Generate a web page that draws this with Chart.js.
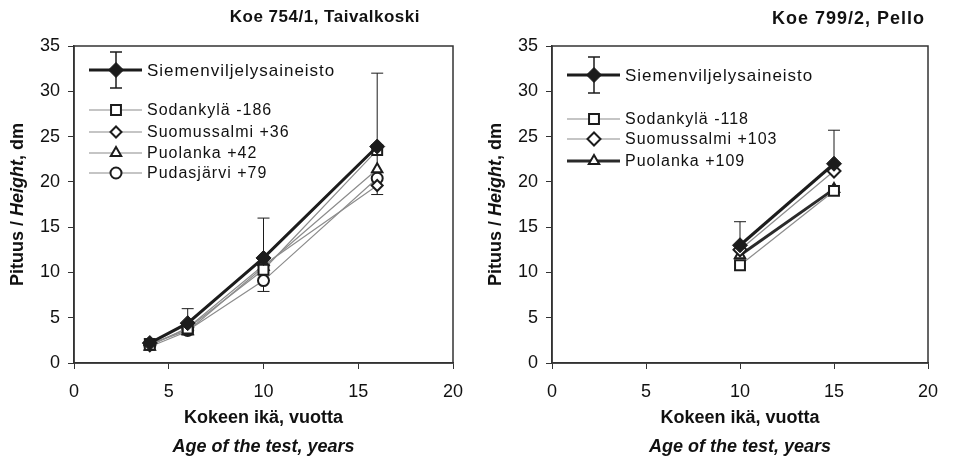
<!DOCTYPE html>
<html>
<head>
<meta charset="utf-8">
<script src="https://cdn.jsdelivr.net/npm/chart.js@4.4.1/dist/chart.umd.min.js"></script>
<style>
  html, body { margin: 0; padding: 0; background: #fff; }
  #wrap { position: relative; width: 953px; height: 461px; overflow: hidden; }
  .panel { position: absolute; top: 0; }
  #left { left: 0; }
  #right { left: 476px; }
</style>
</head>
<body>
<div id="wrap">
  <div class="panel" id="left"><canvas id="chart754" width="476" height="461"></canvas></div>
  <div class="panel" id="right"><canvas id="chart799" width="477" height="461"></canvas></div>
</div>
<script>
const FONT = '"Liberation Sans", Arial, sans-serif';

// Koe 754/1, Taivalkoski
const ages754 = [4, 6, 10, 16];
const siemen754 = [2.2, 4.4, 11.6, 23.9];
const siemenLow754 = [1.7, 3.1, 7.9, 18.6];
const siemenHigh754 = [2.7, 6.0, 16.0, 32.0];
const sodankyla754 = [2.0, 3.8, 10.3, 23.5];
const suomussalmi754 = [1.9, 3.9, 10.8, 19.6];
const puolanka754 = [1.8, 3.5, 10.6, 21.4];
const pudasjarvi754 = [2.1, 3.6, 9.1, 20.4];

// Koe 799/2, Pello
const ages799 = [10, 15];
const siemen799 = [13.0, 22.0];
const siemenLow799 = [null, null];
const siemenHigh799 = [15.6, 25.7];
const sodankyla799 = [10.8, 19.0];
const suomussalmi799 = [12.5, 21.2];
const puolanka799 = [11.9, 19.2];

const xMin = 0, xMax = 20, xStep = 5;
const yMin = 0, yMax = 35, yStep = 5;

const DARK = '#1c1c1c';
const GREY = '#8c8c8c';

function drawErrorBar(ctx, x, yTop, yBottom, cap) {
  ctx.beginPath();
  ctx.moveTo(x, yTop);
  ctx.lineTo(x, yBottom);
  ctx.moveTo(x - cap / 2, yTop);
  ctx.lineTo(x + cap / 2, yTop);
  if (yBottom !== yTop) {
    ctx.moveTo(x - cap / 2, yBottom);
    ctx.lineTo(x + cap / 2, yBottom);
  }
  ctx.stroke();
}

function drawMixed(ctx, parts, size, cx, cy) {
  let total = 0;
  parts.forEach((p) => {
    ctx.font = `${p[1]} ${size}px ${FONT}`;
    total += ctx.measureText(p[0]).width;
  });
  let x = cx - total / 2;
  ctx.textAlign = 'left';
  ctx.textBaseline = 'middle';
  parts.forEach((p) => {
    ctx.font = `${p[1]} ${size}px ${FONT}`;
    ctx.fillText(p[0], x, cy);
    x += ctx.measureText(p[0]).width;
  });
}

function panelPlugin(cfg) {
  return {
    id: 'panel',
    beforeDatasetsDraw(chart) {
      // error bars of the seed orchard series, behind the markers
      const ctx = chart.ctx;
      const xs = chart.scales.x;
      const ys = chart.scales.y;
      ctx.save();
      ctx.strokeStyle = DARK;
      ctx.lineWidth = 1;
      cfg.ages.forEach((age, i) => {
        const px = xs.getPixelForValue(age);
        const hi = cfg.errHigh[i];
        const lo = cfg.errLow[i];
        const top = ys.getPixelForValue(hi != null ? hi : cfg.series[0].values[i]);
        const bottom = ys.getPixelForValue(lo != null ? lo : cfg.series[0].values[i]);
        drawErrorBar(ctx, px, top, bottom, 12);
      });
      ctx.restore();
    },
    afterDraw(chart) {
      const ctx = chart.ctx;
      const area = chart.chartArea;
      ctx.save();

      // frame
      ctx.strokeStyle = '#333';
      ctx.lineWidth = 1.5;
      ctx.strokeRect(area.left, area.top, area.right - area.left, area.bottom - area.top);

      // chart title
      ctx.fillStyle = '#111';
      ctx.font = `bold ${cfg.titleSize}px ${FONT}`;
      ctx.letterSpacing = cfg.titleSpacing;
      ctx.textAlign = 'right';
      ctx.textBaseline = 'middle';
      ctx.fillText(cfg.title, cfg.titleRight, cfg.titleY);
      ctx.letterSpacing = '0px';

      // y axis title
      ctx.save();
      ctx.translate(cfg.yTitleX, (area.top + area.bottom) / 2);
      ctx.rotate(-Math.PI / 2);
      drawMixed(ctx, [['Pituus / ', 'bold'], ['Height', 'italic bold'], [', dm', 'bold']], 18, 0, 0);
      ctx.restore();

      // x axis title, two lines
      const cx = (area.left + area.right) / 2;
      drawMixed(ctx, [['Kokeen ikä, vuotta', 'bold']], 18, cx, 418);
      drawMixed(ctx, [['Age of the test, years', 'italic bold']], 18, cx, 447);

      // legend inside plot area
      cfg.series.forEach((s, i) => {
        const y = area.top + cfg.legendRows[i];
        const x0 = area.left + 15;
        const x1 = area.left + 68;
        const mx = area.left + 42;
        ctx.strokeStyle = s.lineColor;
        ctx.lineWidth = s.lineWidth;
        ctx.beginPath();
        ctx.moveTo(x0, y);
        ctx.lineTo(x1, y);
        ctx.stroke();
        if (i === 0) {
          ctx.strokeStyle = DARK;
          ctx.lineWidth = 1.5;
          drawErrorBar(ctx, mx, y - 18, y + 18, 12);
        }
        ctx.fillStyle = s.fill;
        ctx.strokeStyle = DARK;
        ctx.lineWidth = s.markerBorder;
        Chart.helpers.drawPoint(ctx, { pointStyle: s.marker, radius: s.radius, rotation: 0, borderWidth: s.markerBorder }, mx, y);
        ctx.fillStyle = '#111';
        ctx.font = `${i === 0 ? 17 : 16}px ${FONT}`;
        ctx.letterSpacing = '1px';
        ctx.textAlign = 'left';
        ctx.textBaseline = 'middle';
        ctx.fillText(s.label, area.left + 73, y + 1);
        ctx.letterSpacing = '0px';
      });

      ctx.restore();
    }
  };
}

function makeChart(canvasId, cfg) {
  const datasets = cfg.series.map((s) => ({
    label: s.label,
    data: cfg.ages.map((x, i) => ({ x, y: s.values[i] })),
    borderColor: s.lineColor,
    borderWidth: s.lineWidth,
    pointStyle: s.marker,
    pointRadius: s.radius,
    pointHoverRadius: s.radius,
    pointBackgroundColor: s.fill,
    pointBorderColor: DARK,
    pointBorderWidth: s.markerBorder,
    tension: 0,
    fill: false
  }));

  const tickFont = { family: FONT, size: 18 };

  return new Chart(document.getElementById(canvasId), {
    type: 'line',
    data: { datasets },
    options: {
      responsive: false,
      animation: false,
      layout: { padding: { top: 46, right: cfg.padRight, bottom: 0, left: 0 } },
      plugins: {
        legend: { display: false },
        tooltip: { enabled: false },
        title: { display: false }
      },
      scales: {
        x: {
          type: 'linear',
          min: xMin,
          max: xMax,
          ticks: { stepSize: xStep, font: tickFont, color: '#111', padding: 12, maxRotation: 0 },
          grid: { drawOnChartArea: false, drawTicks: true, tickLength: 6, color: '#333' },
          border: { display: true, color: '#333', width: 1.5 },
          afterFit(scale) { scale.height = 98; }
        },
        y: {
          type: 'linear',
          min: yMin,
          max: yMax,
          ticks: { stepSize: yStep, font: tickFont, color: '#111', padding: 8 },
          grid: { drawOnChartArea: false, drawTicks: true, tickLength: 6, color: '#333' },
          border: { display: true, color: '#333', width: 1.5 },
          afterFit(scale) { scale.width = cfg.yAxisWidth; }
        }
      }
    },
    plugins: [panelPlugin(cfg)]
  });
}

const siemenStyle = { lineColor: DARK, lineWidth: 3, marker: 'rectRot', radius: 7.5, fill: DARK, markerBorder: 1 };

makeChart('chart754', {
  title: 'Koe 754/1, Taivalkoski',
  titleRight: 420,
  titleY: 17,
  titleSize: 17,
  titleSpacing: '0.5px',
  yTitleX: 18,
  yAxisWidth: 74,
  padRight: 23,
  ages: ages754,
  errLow: siemenLow754,
  errHigh: siemenHigh754,
  legendRows: [24, 64, 86, 107, 127],
  series: [
    Object.assign({ label: 'Siemenviljelysaineisto', values: siemen754 }, siemenStyle),
    { label: 'Sodankylä -186', values: sodankyla754, lineColor: GREY, lineWidth: 1.2, marker: 'rect', radius: 7, fill: '#fff', markerBorder: 2 },
    { label: 'Suomussalmi +36', values: suomussalmi754, lineColor: GREY, lineWidth: 1.2, marker: 'rectRot', radius: 5.5, fill: '#fff', markerBorder: 2 },
    { label: 'Puolanka +42', values: puolanka754, lineColor: GREY, lineWidth: 1.2, marker: 'triangle', radius: 6, fill: '#fff', markerBorder: 2 },
    { label: 'Pudasjärvi +79', values: pudasjarvi754, lineColor: GREY, lineWidth: 1.2, marker: 'circle', radius: 5.5, fill: '#fff', markerBorder: 2 }
  ]
});

makeChart('chart799', {
  title: 'Koe 799/2, Pello',
  titleRight: 449,
  titleY: 19,
  titleSize: 18,
  titleSpacing: '1px',
  yTitleX: 20,
  yAxisWidth: 76,
  padRight: 25,
  ages: ages799,
  errLow: siemenLow799,
  errHigh: siemenHigh799,
  legendRows: [29, 73, 93, 115],
  series: [
    Object.assign({ label: 'Siemenviljelysaineisto', values: siemen799 }, siemenStyle),
    { label: 'Sodankylä -118', values: sodankyla799, lineColor: GREY, lineWidth: 1.2, marker: 'rect', radius: 7, fill: '#fff', markerBorder: 2 },
    { label: 'Suomussalmi +103', values: suomussalmi799, lineColor: GREY, lineWidth: 1.2, marker: 'rectRot', radius: 6.5, fill: '#fff', markerBorder: 2 },
    { label: 'Puolanka +109', values: puolanka799, lineColor: '#2a2a2a', lineWidth: 3, marker: 'triangle', radius: 6, fill: '#fff', markerBorder: 2 }
  ]
});
</script>
</body>
</html>
